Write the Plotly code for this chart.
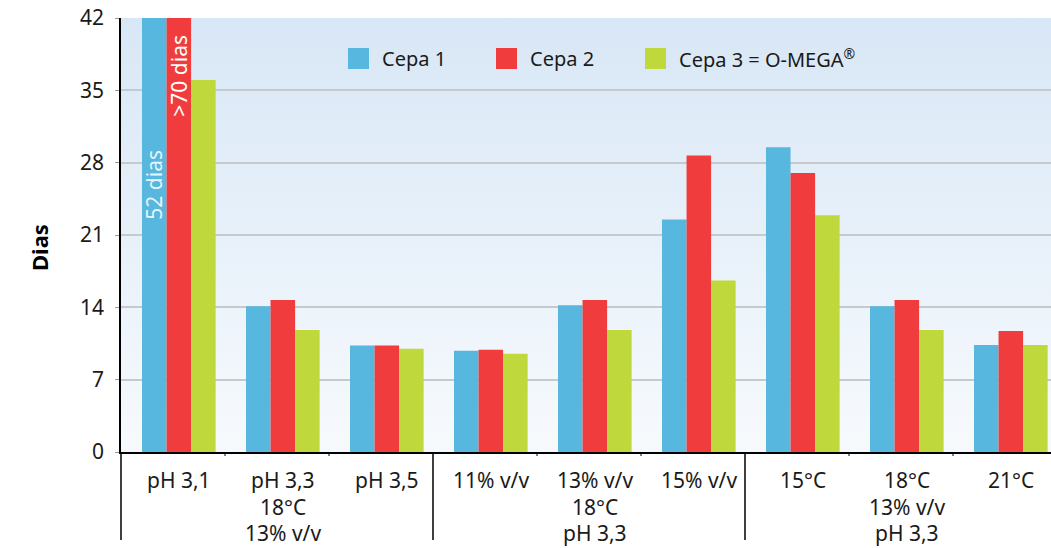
import base64
import plotly.graph_objects as go

# --- data -------------------------------------------------------------
categories = ["pH 3,1", "pH 3,3", "pH 3,5", "11% v/v", "13% v/v",
              "15% v/v", "15°C", "18°C", "21°C"]
label_line2 = ["", "18°C", "", "", "18°C", "", "", "13% v/v", ""]
label_line3 = ["", "13% v/v", "", "", "pH 3,3", "", "", "pH 3,3", ""]

cepa1 = [52, 14.1, 10.3, 9.8, 14.2, 22.5, 29.5, 14.1, 10.35]
cepa2 = [70, 14.7, 10.3, 9.9, 14.7, 28.7, 27.0, 14.7, 11.7]
cepa3 = [36.0, 11.8, 10.0, 9.5, 11.8, 16.6, 22.9, 11.8, 10.35]

series_names = ["Cepa 1", "Cepa 2", "Cepa 3 = O-MEGA<sup>®</sup>"]
series_colors = ["#57b7de", "#f03c3c", "#bfd83b"]

y_ticks = [0, 7, 14, 21, 28, 35, 42]

# --- geometry ---------------------------------------------------------
W, H = 1051, 548
ML, MR, MT, MB = 121, 0, 18, 96
PW, PH = W - ML - MR, H - MT - MB
UNIT = 104.0                       # pixels per category
X0 = -0.5
X1 = X0 + PW / UNIT
BAR_W = 0.236
offsets = [-0.298, -0.298 + BAR_W, -0.298 + 2 * BAR_W]
GROUP_SHIFT = offsets[0] + 1.5 * BAR_W   # centre of each bar group


def px_x(p):
    return (p - ML) / PW


def px_y(p):
    return (MT + PH - p) / PH


FONT = "Noto Sans"
x_pos = list(range(len(categories)))

fig = go.Figure()

for vals, name, col, off in zip([cepa1, cepa2, cepa3], series_names,
                                series_colors, offsets):
    fig.add_trace(go.Bar(
        x=x_pos, y=vals, name=name, width=BAR_W, offset=off,
        marker=dict(color=col, line=dict(width=0)),
        showlegend=False,
    ))

# soft vertical gradient behind the plotting area
svg = ('<svg xmlns="http://www.w3.org/2000/svg" width="10" height="100" '
       'preserveAspectRatio="none"><defs><linearGradient id="g" x1="0" y1="0" '
       'x2="0" y2="1"><stop offset="0" stop-color="#d8e7f6"/>'
       '<stop offset="1" stop-color="#f7fafd"/></linearGradient></defs>'
       '<rect width="10" height="100" fill="url(#g)"/></svg>')
src = "data:image/svg+xml;base64," + base64.b64encode(svg.encode()).decode()

shapes = []
annotations = []

# y axis line continued below the x axis, group separators, small ticks
shapes.append(dict(type="line", xref="paper", yref="paper", x0=0, x1=0,
                   y0=0, y1=px_y(540), line=dict(color="black", width=1.5)))
for b in [2.5, 5.5]:
    shapes.append(dict(type="line", xref="x", yref="paper", x0=b, x1=b,
                       y0=0, y1=px_y(540), line=dict(color="black", width=1.5)))
for b in [0.5, 1.5, 3.5, 4.5, 6.5, 7.5]:
    shapes.append(dict(type="line", xref="x", yref="paper", x0=b, x1=b,
                       y0=0, y1=px_y(456), line=dict(color="black", width=1)))

# category labels (up to three lines)
line_y = [480, 507, 533]
for i in range(len(categories)):
    for text, yp in zip([categories[i], label_line2[i], label_line3[i]], line_y):
        if text:
            annotations.append(dict(
                x=i + GROUP_SHIFT, xref="x", y=px_y(yp), yref="paper",
                text=text, showarrow=False, xanchor="center", yanchor="middle",
                borderpad=0,
                font=dict(family=FONT, size=21, color="#1a1a1a")))

# values that run off the top of the scale
annotations.append(dict(
    x=0 + offsets[0] + BAR_W / 2, xref="x", y=25.9, yref="y",
    text=f"{cepa1[0]} dias", textangle=-90, showarrow=False,
    font=dict(family=FONT, size=21, color="rgba(240,250,255,0.95)")))
annotations.append(dict(
    x=0 + offsets[1] + BAR_W / 2, xref="x", y=36.4, yref="y",
    text=f">{cepa2[0]} dias", textangle=-90, showarrow=False,
    font=dict(family=FONT, size=21, color="white")))

# axis title
annotations.append(dict(
    x=px_x(22), xref="paper", y=px_y(248), yref="paper", text="<b>Dias</b>",
    textangle=-90, showarrow=False,
    font=dict(family=FONT, size=22, color="black")))

# legend drawn as swatches + labels
legend_x = [348, 496, 645]
for name, col, lx in zip(series_names, series_colors, legend_x):
    shapes.append(dict(type="rect", xref="paper", yref="paper",
                       x0=px_x(lx), x1=px_x(lx + 21),
                       y0=px_y(69), y1=px_y(48),
                       fillcolor=col, line=dict(width=0)))
    annotations.append(dict(
        x=px_x(lx + 32), xref="paper", y=px_y(59), yref="paper",
        text=name, showarrow=False, xanchor="left", yanchor="middle",
        font=dict(family=FONT, size=20, color="#1a1a1a")))

fig.update_layout(
    width=W, height=H,
    margin=dict(l=ML, r=MR, t=MT, b=MB, pad=0),
    paper_bgcolor="white",
    plot_bgcolor="rgba(0,0,0,0)",
    barmode="overlay",
    font=dict(family=FONT, size=20, color="#1a1a1a"),
    images=[dict(source=src, xref="paper", yref="paper", x=0, y=1,
                 sizex=1, sizey=1, sizing="stretch", layer="below",
                 xanchor="left", yanchor="top")],
    shapes=shapes,
    annotations=annotations,
    xaxis=dict(range=[X0, X1], showgrid=False, zeroline=False,
               showticklabels=False, ticks="", showline=True,
               linecolor="black", linewidth=1.5, fixedrange=True),
    yaxis=dict(range=[0, 42], tickvals=y_ticks,
               ticktext=[str(v) for v in y_ticks],
               showgrid=True, gridcolor="#c6c9ce", gridwidth=2,
               zeroline=False, showline=True, linecolor="black",
               linewidth=1.5, ticks="outside", ticklen=4,
               tickcolor="#9a9a9a", tickwidth=1, ticklabelstandoff=7,
               tickfont=dict(family=FONT, size=21, color="#1a1a1a"),
               fixedrange=True),
    showlegend=False,
)

fig.write_html("out.html", config={"displayModeBar": False})
